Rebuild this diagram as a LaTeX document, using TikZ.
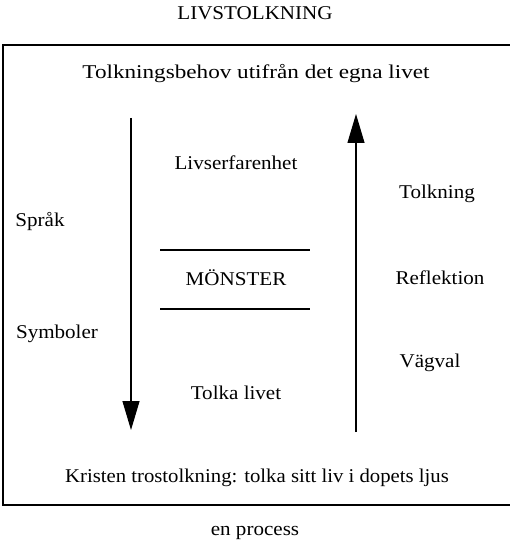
\documentclass[tikz,border=0pt]{standalone}
\usepackage{fontspec}
\setmainfont{Liberation Serif}[FakeStretch=1.08]
\usetikzlibrary{arrows.meta}
\begin{document}
\begin{tikzpicture}[x=1pt,y=-1pt,
  lbl/.style={font=\fontsize{19.5}{23}\selectfont, inner sep=0pt, anchor=center},
  rule/.style={line width=1.1pt},
  frame/.style={line width=1.4pt},
  bigarrow/.style={line width=1.1pt, -{Triangle[length=29pt,width=17pt]}}]
\useasboundingbox (0,0) rectangle (510,548);
\node[lbl] (title) at (255,13) {LIVSTOLKNING};
\draw[frame] (510,45) -- (3,45) -- (3,505) -- (510,505);
\node[lbl] (need) at (256,74) {\scalebox{1.1}[1]{Tolkningsbehov utifrån det egna livet}};
\node[lbl] (exp) at (236,163) {Livserfarenhet};
\node[lbl] (tolk) at (437,194) {Tolkning};
\node[lbl] (sprak) at (40,222) {Språk};
\node[lbl] (monster) at (236,278) {MÖNSTER};
\node[lbl] (refl) at (440,278) {Reflektion};
\node[lbl] (symb) at (57,334) {Symboler};
\node[lbl] (vag) at (430,363) {Vägval};
\node[lbl] (tlive) at (236,393) {Tolka livet};
\node[lbl] (krist) at (257,478) {\scalebox{0.985}[1]{Kristen trostolkning: tolka sitt liv i dopets ljus}};
\node[lbl] (proc) at (255,533) {en process};
\coordinate (l1a) at (160,250); \coordinate (l1b) at (310,250);
\coordinate (l2a) at (160,309); \coordinate (l2b) at (310,309);
\draw[rule] (l1a) -- (l1b);
\draw[rule] (l2a) -- (l2b);
\coordinate (dtop) at (131,118); \coordinate (dbot) at (131,430);
\coordinate (ubot) at (356,432); \coordinate (utop) at (356,114);
\draw[bigarrow] (dtop) -- (dbot);
\draw[bigarrow] (ubot) -- (utop);
\end{tikzpicture}
\end{document}
